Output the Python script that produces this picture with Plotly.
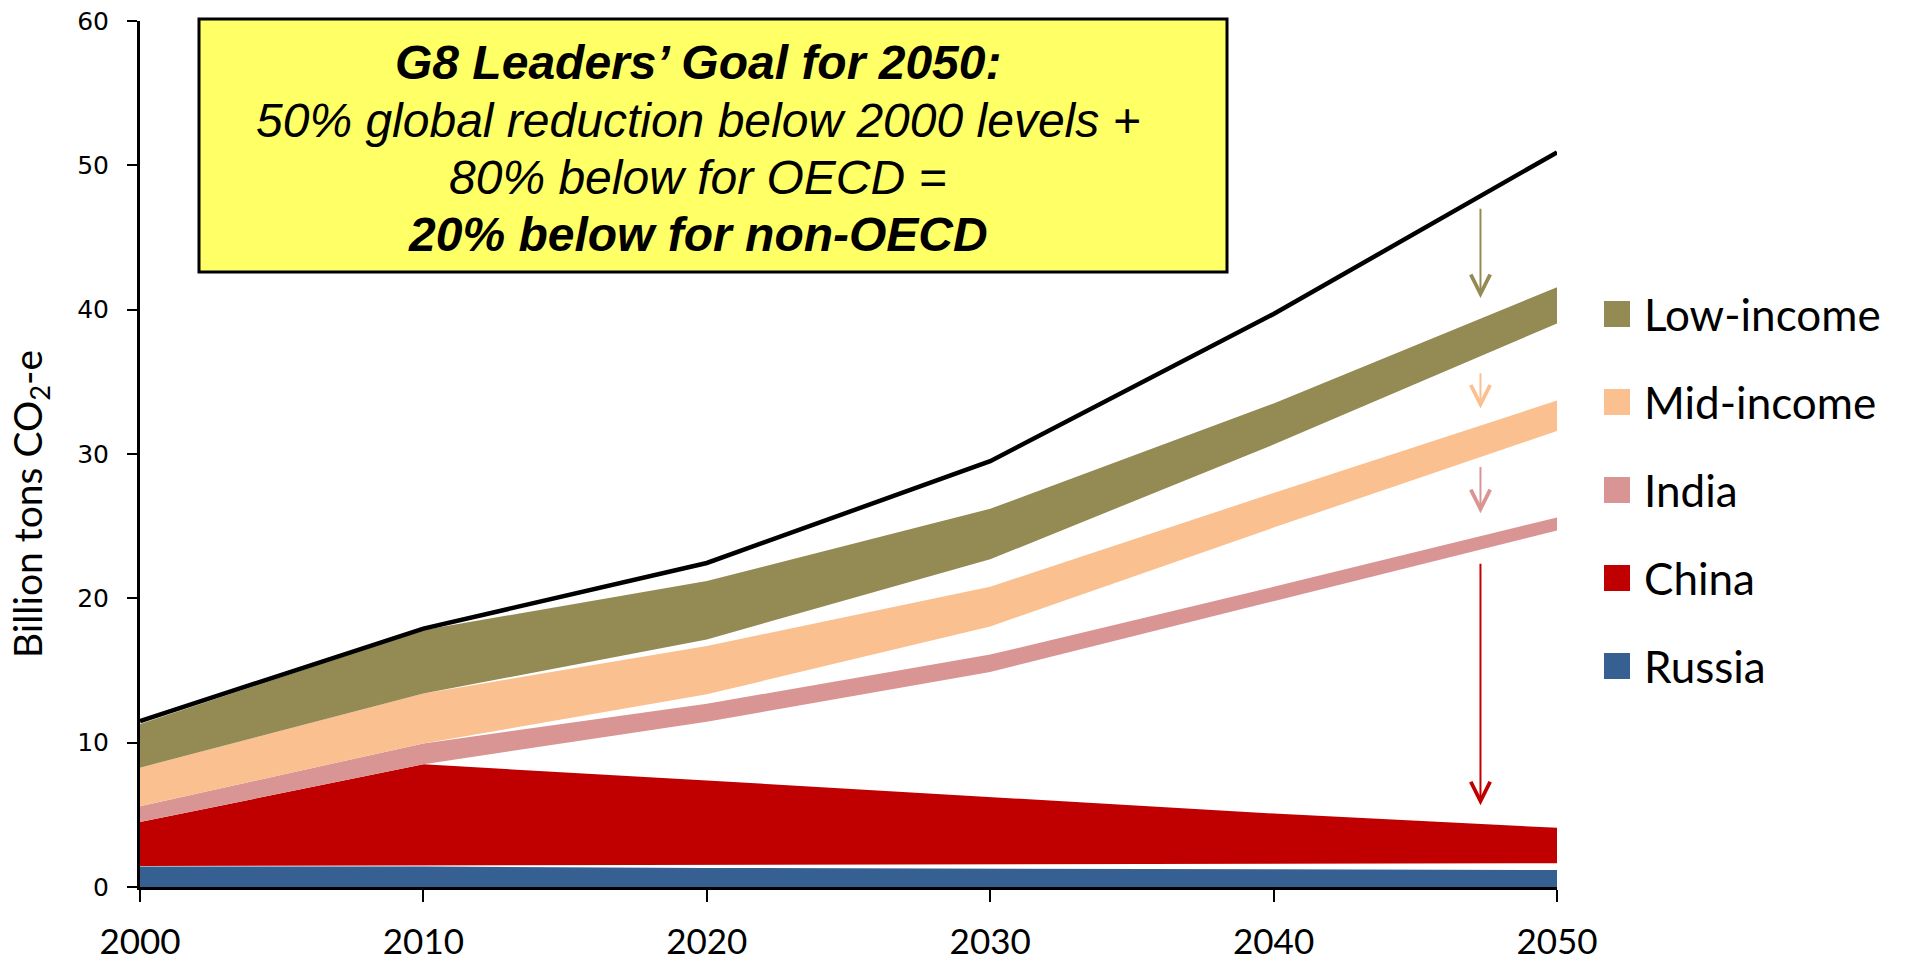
import plotly.graph_objects as go

YEARS = [2000, 2010, 2020, 2030, 2040, 2050]

# business-as-usual total, non-OECD
BAU_TOTAL = [11.5, 17.9, 22.45, 29.5, 39.7, 50.9]

# bands: lower / upper edge of each group
LOW_LO = [8.27, 13.4, 17.15, 22.7, 30.65, 39.05]
LOW_HI = [11.3, 17.8, 21.2, 26.2, 33.5, 41.55]
MID_LO = [5.6, 9.95, 13.35, 18.05, 24.9, 31.6]
MID_HI = [8.27, 13.4, 16.7, 20.8, 27.3, 33.7]
INDIA_LO = [4.5, 8.5, 11.45, 14.9, 19.8, 24.7]
INDIA_HI = [5.6, 9.95, 12.7, 16.1, 20.8, 25.6]
CHINA_LO = [1.46, 1.5, 1.52, 1.6, 1.62, 1.65]
CHINA_HI = [4.5, 8.5, 7.38, 6.25, 5.09, 4.1]
RUSSIA_HI = [1.42, 1.42, 1.32, 1.27, 1.22, 1.18]

# reduction arrows at ~2047: (tail, head)
ARROW_YEAR = 2047.3
ARROWS = [
    (47.1, 40.8, "#948A54"),
    (35.7, 33.15, "#FAC090"),
    (29.2, 25.9, "#D99594"),
    (22.5, 5.66, "#C00000"),
]

LEGEND = [
    ("Low-income", "#948A54"),
    ("Mid-income", "#FAC090"),
    ("India", "#D99594"),
    ("China", "#C00000"),
    ("Russia", "#376092"),
]

BOX_LINES = [
    "<b><i>G8 Leaders’ Goal for 2050:</i></b>",
    "<i>50% global reduction below 2000 levels +</i>",
    "<i>80% below for OECD =</i>",
    "<b><i>20% below for non-OECD</i></b>",
]

W, H = 1906, 963
L, R, T, B = 140, 349, 21, 76
PW, PH = W - L - R, H - T - B


def px_x(x):
    return (x - L) / PW


def px_y(y):
    return (H - B - y) / PH


fig = go.Figure()


def add_band(lo, hi, color):
    if lo is not None:
        fig.add_trace(go.Scatter(x=YEARS, y=lo, mode="lines", line=dict(width=0),
                                 showlegend=False, hoverinfo="skip"))
        fill = "tonexty"
    else:
        fill = "tozeroy"
    fig.add_trace(go.Scatter(x=YEARS, y=hi, mode="lines", line=dict(width=0),
                             fill=fill, fillcolor=color,
                             showlegend=False, hoverinfo="skip"))


add_band(None, RUSSIA_HI, "#376092")
add_band(CHINA_LO, CHINA_HI, "#C00000")
add_band(INDIA_LO, INDIA_HI, "#D99594")
add_band(MID_LO, MID_HI, "#FAC090")
add_band(LOW_LO, LOW_HI, "#948A54")

fig.add_trace(go.Scatter(x=YEARS, y=BAU_TOTAL, mode="lines",
                         line=dict(color="black", width=4.5),
                         showlegend=False, hoverinfo="skip"))

annotations = []
shapes = []

for tail, head, color in ARROWS:
    annotations.append(dict(
        x=ARROW_YEAR, y=head, ax=ARROW_YEAR, ay=tail,
        xref="x", yref="y", axref="x", ayref="y",
        text="", showarrow=True, arrowhead=5, arrowsize=1.9,
        arrowwidth=2, arrowcolor=color,
    ))

# legend drawn by hand on the right
for i, (name, color) in enumerate(LEGEND):
    yc = 314 + i * 88
    shapes.append(dict(type="rect", xref="paper", yref="paper",
                       x0=px_x(1604), x1=px_x(1630),
                       y0=px_y(yc + 13), y1=px_y(yc - 13),
                       fillcolor=color, line=dict(width=0)))
    annotations.append(dict(x=px_x(1642), y=px_y(yc), xref="paper", yref="paper",
                            text=name, showarrow=False, xanchor="left", yanchor="middle",
                            font=dict(family="Lato", size=44, color="black")))

# yellow goal box
shapes.append(dict(type="rect", xref="paper", yref="paper",
                   x0=px_x(199), x1=px_x(1227), y0=px_y(272), y1=px_y(19),
                   fillcolor="#FFFF66", line=dict(color="black", width=3)))
for i, line in enumerate(BOX_LINES):
    annotations.append(dict(x=px_x(698), y=px_y(63 + i * 57), xref="paper", yref="paper",
                            text=line, showarrow=False, xanchor="center", yanchor="middle",
                            font=dict(family="Liberation Sans, Arial", size=48, color="black")))

annotations.append(dict(x=px_x(30), y=px_y(504), xref="paper", yref="paper",
                        text="Billion tons CO<sub>2</sub>-e", textangle=-90,
                        showarrow=False, xanchor="center", yanchor="middle",
                        font=dict(family="Lato", size=39, color="black")))

fig.update_layout(
    width=W, height=H,
    paper_bgcolor="white",
    plot_bgcolor="white",
    margin=dict(l=L, r=R, t=T, b=B),
    showlegend=False,
    xaxis=dict(range=[2000, 2050], tickvals=YEARS, showgrid=False, zeroline=False,
               automargin=False,
               showline=True, linecolor="black", linewidth=3,
               ticks="outside", ticklen=12, tickwidth=2, tickcolor="black",
               ticklabelstandoff=10,
               tickfont=dict(family="Lato", size=35, color="black")),
    yaxis=dict(range=[0, 60], dtick=10, showgrid=False, zeroline=False,
               automargin=False,
               showline=True, linecolor="black", linewidth=3,
               ticks="outside", ticklen=10, tickwidth=2, tickcolor="black",
               ticklabelstandoff=13,
               tickfont=dict(family="DejaVu Sans", size=25, color="black")),
    annotations=annotations,
    shapes=shapes,
)

# pin the figure to the top-left corner of the page
pin = ("document.body.style.margin='0';"
       "var gd=document.getElementById('{plot_id}');"
       "gd.style.position='fixed';gd.style.left='0';gd.style.top='0';")
fig.write_html("out.html", config={"displayModeBar": False}, post_script=pin)
